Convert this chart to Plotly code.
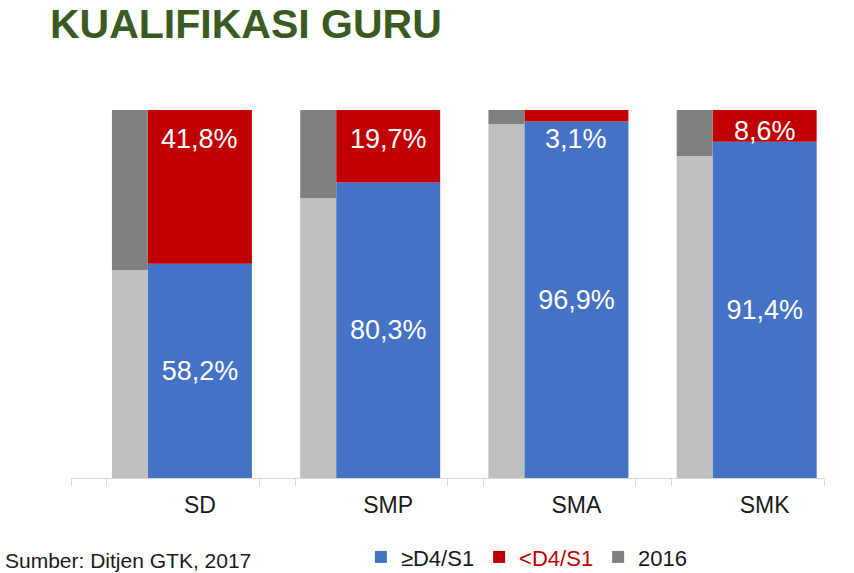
import plotly.graph_objects as go

# ---- data ----
categories = ["SD", "SMP", "SMA", "SMK"]
ge_d4s1_2017 = [58.2, 80.3, 96.9, 91.4]   # >= D4/S1 (blue)
lt_d4s1_2017 = [41.8, 19.7, 3.1, 8.6]     # < D4/S1 (red)
ge_d4s1_2016 = [56.5, 76.0, 96.1, 87.5]   # 2016 >= D4/S1 (light gray)
lt_d4s1_2016 = [43.5, 24.0, 3.9, 12.5]    # 2016 < D4/S1 (dark gray)

FONT = "Liberation Sans, Arial, sans-serif"
BLUE, RED, LGRAY, DGRAY = "#4472C4", "#C00000", "#BFBFBF", "#808080"

xpos = list(range(len(categories)))
MAIN_W, MAIN_OFF = 0.552, -0.091
OLD_W, OLD_OFF = 0.191, -0.2825
main_center = [x + MAIN_OFF + MAIN_W / 2 for x in xpos]


def pct(v):
    return f"{v:.1f}".replace(".", ",") + "%"


fig = go.Figure()

fig.add_trace(go.Bar(
    x=xpos, y=ge_d4s1_2016, width=OLD_W, offset=OLD_OFF,
    marker=dict(color=LGRAY, line=dict(width=0)),
    showlegend=False, name="2016 ≥D4/S1", hoverinfo="skip"))
fig.add_trace(go.Bar(
    x=xpos, y=lt_d4s1_2016, base=ge_d4s1_2016, width=OLD_W, offset=OLD_OFF,
    marker=dict(color=DGRAY, line=dict(width=0)),
    name="2016", legendrank=3, hoverinfo="skip"))
fig.add_trace(go.Bar(
    x=xpos, y=ge_d4s1_2017, width=MAIN_W, offset=MAIN_OFF,
    marker=dict(color=BLUE, line=dict(width=0)),
    text=[pct(v) for v in ge_d4s1_2017], textposition="inside",
    insidetextanchor="middle", textangle=0,
    textfont=dict(color="white", size=27, family=FONT),
    name="≥D4/S1", legendrank=1, hoverinfo="skip"))
fig.add_trace(go.Bar(
    x=xpos, y=lt_d4s1_2017, base=ge_d4s1_2017, width=MAIN_W, offset=MAIN_OFF,
    marker=dict(color=RED, line=dict(width=0)),
    textposition="none",
    name="<span style='color:#C00000'>&lt;D4/S1</span>", legendrank=2,
    hoverinfo="skip"))

# red-segment value labels near the top of each column
label_y = [92.1, 92.1, 92.1, 94.3]
for xc, v, ly in zip(main_center, lt_d4s1_2017, label_y):
    fig.add_annotation(x=xc, y=ly, xref="x", yref="y", text=pct(v),
                       showarrow=False, yanchor="middle",
                       font=dict(color="white", size=27, family=FONT))

fig.add_annotation(text="Sumber: Ditjen GTK, 2017", xref="paper", yref="paper",
                   x=-0.0903, y=-0.2255, xanchor="left", yanchor="middle",
                   showarrow=False, font=dict(size=21, color="#1a1a1a", family=FONT))

minor_ticks = [x - 0.5 for x in xpos] + [x - 0.31 for x in xpos] + [len(xpos) - 0.5]

fig.update_layout(
    width=854, height=573,
    margin=dict(l=71, r=30, t=110, b=95, autoexpand=False),
    paper_bgcolor="white", plot_bgcolor="white",
    barmode="overlay",
    font=dict(family=FONT, color="#1a1a1a"),
    title=dict(text="<b>KUALIFIKASI GURU</b>", xref="container", yref="container",
               x=50 / 854, xanchor="left", y=1 - 24 / 573, yanchor="middle",
               font=dict(size=41, color="#3B5A22", family=FONT)),
    xaxis=dict(range=[-0.5, len(xpos) - 0.5], tickmode="array",
               tickvals=main_center, ticktext=categories, ticks="",
               showline=True, linecolor="#D9D9D9", linewidth=1,
               showgrid=False, zeroline=False, ticklabelstandoff=6,
               automargin=False,
               tickfont=dict(size=23, color="#1a1a1a", family=FONT),
               minor=dict(tickmode="array", tickvals=minor_ticks, ticks="outside",
                          ticklen=7, tickwidth=1, tickcolor="#D9D9D9", showgrid=False)),
    yaxis=dict(range=[0, 100], visible=False),
    legend=dict(orientation="h", x=0.385, xanchor="left", y=-0.215, yanchor="middle",
                font=dict(size=22, color="#1a1a1a", family=FONT),
                bgcolor="rgba(0,0,0,0)"),
)

fig.write_html("out.html", config={"displayModeBar": False},
               post_script="document.body.style.margin='0px';document.body.style.overflow='hidden';")
